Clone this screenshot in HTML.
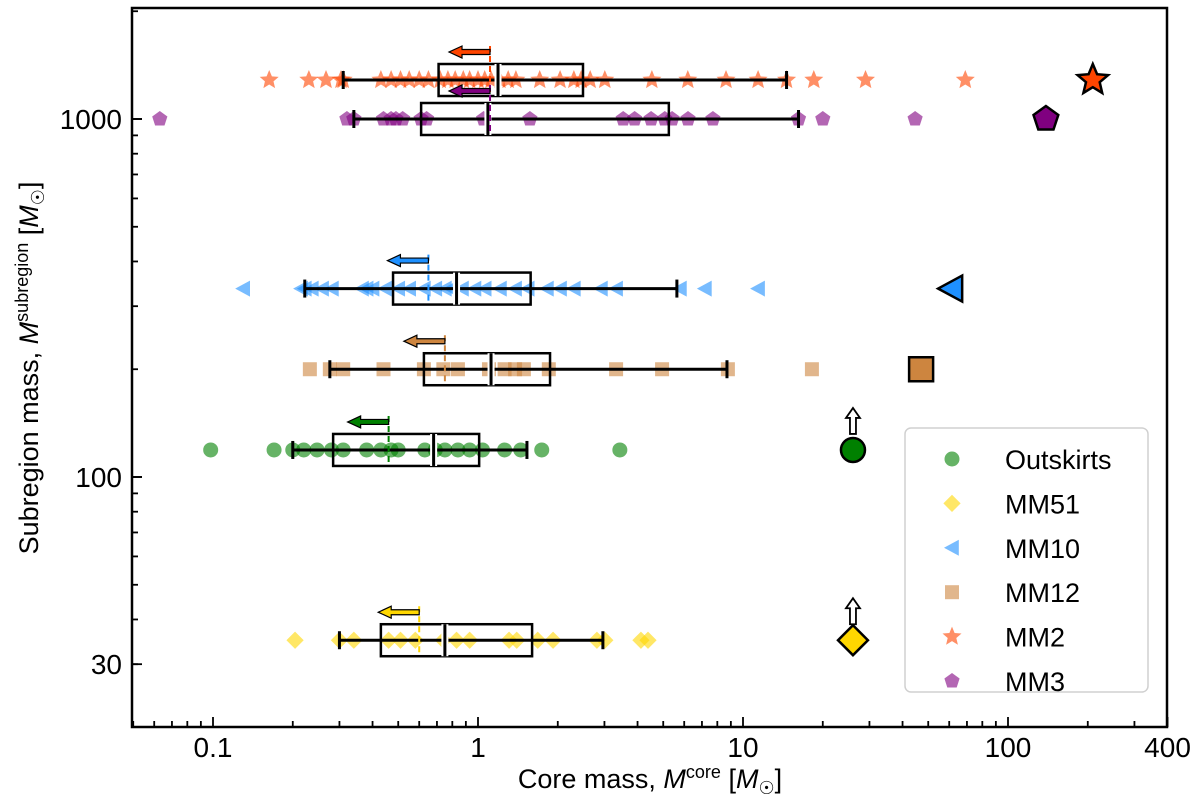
<!DOCTYPE html>
<html><head><meta charset="utf-8"><style>
html,body{margin:0;padding:0;background:#fff;}
svg{display:block;font-family:"Liberation Sans","DejaVu Sans",sans-serif;}
</style></head><body>
<svg id="chart" width="1200" height="805" viewBox="0 0 1200 805" xmlns="http://www.w3.org/2000/svg">
<g id="plot"></g>
</svg>
<script>
const groups = ["MM2","MM3","MM10","MM12","Outskirts","MM51"];
const colors = ["#ff4500","#800080","#1e90ff","#cd853f","#008000","#ffd700"];
const shapes = ["star","pentagon","triangle","square","circle","diamond"];
const subregionMass = [1285,1000,336,200,119,35];
const coresMM2 = [0.163,0.23,0.267,0.304,0.31,0.43,0.47,0.51,0.55,0.6,0.65,0.72,0.77,0.82,0.88,0.93,1.0,1.06,1.12,1.21,1.3,1.39,1.71,2.04,2.3,2.45,2.65,3.01,4.53,6.19,8.63,11.4,14.6,18.5,29,69];
const coresMM3 = [0.063,0.32,0.34,0.44,0.47,0.49,0.52,0.61,0.64,1.05,1.57,3.53,3.9,4.5,5.07,5.4,6.2,7.7,16.2,20,44.6];
const coresMM10 = [0.13,0.215,0.222,0.236,0.258,0.281,0.365,0.38,0.40,0.446,0.5,0.55,0.625,0.69,0.75,0.79,0.87,0.97,1.06,1.21,1.38,1.54,1.82,2.04,2.3,2.91,3.32,5.78,7.18,11.4];
const coresMM12 = [0.232,0.276,0.31,0.44,0.625,0.74,0.84,1.1,1.26,1.38,1.49,1.85,3.32,4.95,8.77,18.2];
const coresOut = [0.098,0.17,0.2,0.22,0.247,0.28,0.31,0.38,0.43,0.47,0.5,0.63,0.69,0.75,0.84,0.93,1.04,1.26,1.45,1.74,3.43];
const coresMM51 = [0.204,0.3,0.34,0.46,0.51,0.58,0.74,0.83,0.93,1.31,1.4,1.68,1.92,2.81,3.01,4.12,4.38];
const cores = [coresMM2,coresMM3,coresMM10,coresMM12,coresOut,coresMM51];
const whiskerLo = [0.31,0.34,0.222,0.276,0.2,0.3];
const q1 = [0.71,0.61,0.478,0.625,0.284,0.43];
const medians = [1.19,1.09,0.83,1.12,0.68,0.75];
const q3 = [2.49,5.25,1.58,1.87,1.01,1.6];
const whiskerHi = [14.6,16.2,5.63,8.7,1.53,2.96];
const means = [1.11,1.11,0.65,0.75,0.46,0.6];
const bigMass = [209,139,61,47,26,26];
const lowerLimit = [false,false,false,false,true,true];
const xTicks = [0.1,1,10,100,400];
const xTickLabels = ["0.1","1","10","100","400"];
const yTicks = [30,100,1000];
const yTickLabels = ["30","100","1000"];

const NS="http://www.w3.org/2000/svg";
const X0=132,X1=1167,Y0=8,Y1=727;
function xs(m){return 478+Math.log10(m)*265;}
function ys(v){return 477-(Math.log10(v)-2)*358;}
const plot=document.getElementById('plot');
function mk(tag,attrs,parent){const e=document.createElementNS(NS,tag);for(const k in attrs)e.setAttribute(k,attrs[k]);(parent||plot).appendChild(e);return e;}
function shapePath(s,x,y,r){
  if(s==="circle")return `M${x-r},${y}a${r},${r} 0 1,0 ${2*r},0a${r},${r} 0 1,0 ${-2*r},0Z`;
  if(s==="square")return `M${x-r},${y-r}h${2*r}v${2*r}h${-2*r}Z`;
  if(s==="diamond")return `M${x},${y-r*1.15}L${x+r*1.15},${y}L${x},${y+r*1.15}L${x-r*1.15},${y}Z`;
  if(s==="triangle")return `M${x-r},${y}L${x+r*0.85},${y-r}L${x+r*0.85},${y+r}Z`;
  let pts=[];const n=s==="star"?10:5;
  for(let i=0;i<n;i++){const a=-Math.PI/2+i*2*Math.PI/n;const rr=s==="star"?(i%2?r*0.45:r):r;pts.push((x+rr*Math.cos(a)).toFixed(1)+","+(y+rr*Math.sin(a)).toFixed(1));}
  return "M"+pts.join("L")+"Z";
}
const sizes={star:10,pentagon:8,triangle:8,square:7,circle:7.5,diamond:7.5};
const bigSizes={star:16,pentagon:13,triangle:13,square:12,circle:12,diamond:13};

groups.forEach((g,i)=>{
  const y=ys(subregionMass[i]);
  const gg=mk('g',{});
  
  
  cores[i].forEach(m=>{
    const p=mk('path',{d:shapePath(shapes[i],xs(m),y,sizes[shapes[i]]),fill:colors[i],'fill-opacity':0.6},gg);
    
    
  });
  const h=16;
  const w=mk('line',{x1:xs(whiskerLo[i]),x2:xs(whiskerHi[i]),y1:y,y2:y,stroke:'#000','stroke-width':3},gg);
  
  
  [whiskerLo[i],whiskerHi[i]].forEach(v=>{
    const c=mk('line',{x1:xs(v),x2:xs(v),y1:y-9,y2:y+9,stroke:'#000','stroke-width':3},gg);
    
    
  });
  const b=mk('rect',{x:xs(q1[i]),y:y-h,width:xs(q3[i])-xs(q1[i]),height:2*h,fill:'none',stroke:'#000','stroke-width':2.5},gg);
  
  
  const md=mk('line',{x1:xs(medians[i]),x2:xs(medians[i]),y1:y-h,y2:y+h,stroke:'#fff','stroke-width':7},gg);
  
  
  const md2=mk('line',{x1:xs(medians[i]),x2:xs(medians[i]),y1:y-h,y2:y+h,stroke:'#000','stroke-width':3},gg);
  
  
  const mx=xs(means[i]);
  const dl=mk('line',{x1:mx,x2:mx,y1:y-34,y2:y+h,stroke:colors[i],'stroke-width':2,'stroke-dasharray':'6,4'},gg);
  
  
  const ay=y-28;
  const ar=mk('path',{d:`M${mx},${ay-2.5}H${mx-28}V${ay-6}L${mx-41},${ay}L${mx-28},${ay+6}V${ay+2.5}H${mx}Z`,fill:colors[i],stroke:'#000','stroke-width':1.2},gg);
  
  
  const bx=xs(bigMass[i]);
  if(lowerLimit[i]){
    const la=mk('path',{d:`M${bx-3},${y-16}V${y-32}H${bx-7}L${bx},${y-42}L${bx+7},${y-32}H${bx+3}V${y-16}Z`,fill:'#fff',stroke:'#000','stroke-width':1.8},gg);
    
    
  }
  const bm=mk('path',{d:shapePath(shapes[i],bx,y,bigSizes[shapes[i]]),fill:colors[i],stroke:'#000','stroke-width':2.5},gg);
  
  
});

const fr=mk('rect',{x:X0,y:Y0,width:X1-X0,height:Y1-Y0,fill:'none',stroke:'#000','stroke-width':2.5});


for(let e=-2;e<=2;e++)for(let k=1;k<10;k++){const v=k*Math.pow(10,e);const x=xs(v);if(x<X0||x>X1)continue;
  const t=mk('line',{x1:x,x2:x,y1:Y1,y2:Y1-(k===1?10:6),stroke:'#000','stroke-width':1.8});
  
  }
xTicks.forEach((v,i)=>{const t=mk('text',{x:xs(v),y:Y1+30,'font-size':28,'text-anchor':'middle'});t.textContent=xTickLabels[i];
  
  });
const t400=mk('line',{x1:xs(400),x2:xs(400),y1:Y1,y2:Y1-10,stroke:'#000','stroke-width':1.8});


for(let e=1;e<=3;e++)for(let k=1;k<10;k++){const v=k*Math.pow(10,e);const y=ys(v);if(y<Y0||y>Y1)continue;
  const major=(k===1);
  const t=mk('line',{x1:X0,x2:X0+(major?10:6),y1:y,y2:y,stroke:'#000','stroke-width':1.8});
  
  }
yTicks.forEach((v,i)=>{const y=ys(v);
  const tk=mk('line',{x1:X0,x2:X0+10,y1:y,y2:y,stroke:'#000','stroke-width':1.8});
  
  
  const t=mk('text',{x:X0-10,y:y+10,'font-size':28,'text-anchor':'end'});t.textContent=yTickLabels[i];
  
  });
const xt=mk('text',{x:650,y:788,'font-size':27,'text-anchor':'middle'});
xt.innerHTML='Core mass, <tspan font-style="italic">M</tspan><tspan font-size="18" dy="-10">core</tspan><tspan dy="10"> [</tspan><tspan font-style="italic">M</tspan><tspan font-size="18" dy="6">☉</tspan><tspan dy="-6">]</tspan>';


const yt=mk('text',{x:0,y:0,'font-size':27,'text-anchor':'middle',transform:'translate(38,368) rotate(-90)'});
yt.innerHTML='Subregion mass, <tspan font-style="italic">M</tspan><tspan font-size="18" dy="-10">subregion</tspan><tspan dy="10"> [</tspan><tspan font-style="italic">M</tspan><tspan font-size="18" dy="6">☉</tspan><tspan dy="-6">]</tspan>';


const lg=mk('g',{});


const lb=mk('rect',{x:905,y:428,width:243,height:264,rx:6,fill:'#fff','fill-opacity':0.85,stroke:'#d0d0d0','stroke-width':1.5},lg);


const legendOrder=[4,5,2,3,0,1];
legendOrder.forEach((gi,r)=>{const y=459+r*44.4;
  const e=mk('g',{},lg);
  
  
  mk('path',{d:shapePath(shapes[gi],952,y,sizes[shapes[gi]]),fill:colors[gi],'fill-opacity':0.6},e);
  const t=mk('text',{x:1005,y:y+10,'font-size':27},e);t.textContent=groups[gi];
});
</script>
</body></html>
